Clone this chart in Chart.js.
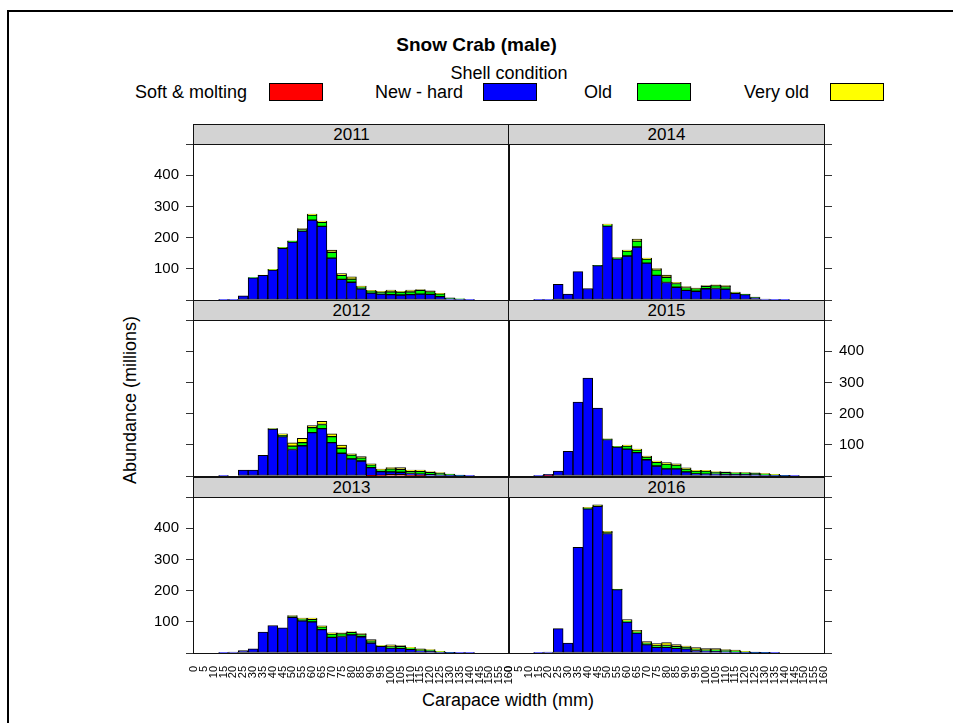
<!DOCTYPE html>
<html>
<head>
<meta charset="utf-8">
<script src="https://cdn.jsdelivr.net/npm/chart.js@4.4.0/dist/chart.umd.min.js"></script>
<style>
  html, body { margin: 0; padding: 0; background: #fff; width: 953px; height: 723px; overflow: hidden; }
  body { position: relative; font-family: "Liberation Sans", Arial, sans-serif; color: #000; }
  .abs { position: absolute; }
  canvas { position: absolute; }
  .frame { position: absolute; box-sizing: border-box; border: 1px solid #111; pointer-events: none; }
  .strip { position: absolute; box-sizing: border-box; border: 1px solid #111; background: #d3d3d3;
           text-align: center; font-size: 17px; line-height: 20px; }
  .lgText { position: absolute; font-size: 18px; line-height: 18px; white-space: nowrap; }
  .lgBox { position: absolute; box-sizing: border-box; border: 1px solid #000; width: 54px; height: 18px; }
</style>
</head>
<body>
<div class="abs" style="left:7px;top:10px;width:980px;height:760px;border-left:2px solid #000;border-top:2px solid #000;"></div>
<div class="abs" style="left:0;width:953px;top:34px;text-align:center;font-size:19px;font-weight:bold;">Snow Crab (male)</div>
<div class="abs" style="left:409px;width:200px;top:63px;text-align:center;font-size:18px;">Shell condition</div>
<div id="legend"></div>
<div class="abs" style="left:508px;top:690px;transform:translateX(-50%);font-size:18px;white-space:nowrap;">Carapace width (mm)</div>
<div class="abs" style="left:130px;top:400px;transform:translate(-50%,-50%) rotate(-90deg);font-size:18px;white-space:nowrap;">Abundance (millions)</div>
<div id="panels"></div>

<script>
'use strict';
/* Snow crab male abundance by carapace width, stacked by shell condition */

const bins   = [0, 5, 10, 15, 20, 25, 30, 35, 40, 45, 50, 55, 60, 65, 70, 75, 80,
                85, 90, 95, 100, 105, 110, 115, 120, 125, 130, 135, 140, 145, 150, 155, 160];
const yTicks = [0, 100, 200, 300, 400, 500];
const shellNames  = ['Soft & molting', 'New - hard', 'Old', 'Very old'];
const shellColors = ['#ff0000', '#0000ff', '#00ff00', '#ffff00'];

//                 0  5 10 15 20  25  30  35  40  45  50  55  60  65  70  75  80 85 90 95 100 105 110 115 120 125 130 135 140 145 150 155 160
const soft2011    = [0, 0, 0, 0, 0,  0,  0,  0,  0,  0,  0,  0,  0,  0,  0,  0,  0, 0, 0, 0,  0,  0,  0,  0,  0,  0,  0,  0,  0,  0,  0,  0,  0];
const newHard2011 = [0, 0, 0, 1, 2, 13, 71, 79, 96,166,186,221,256,236,134, 66, 57,36,22,19, 17, 16, 17, 19, 18, 11,  4,  3,  1,  0,  0,  0,  0];
const old2011     = [0, 0, 0, 0, 0,  0,  1,  0,  1,  2,  2,  5, 16, 13, 19, 13, 10, 6, 7, 6,  9,  9,  9, 12,  9,  9,  3,  1,  0,  0,  0,  0,  0];
const veryOld2011 = [0, 0, 0, 0, 0,  0,  0,  1,  1,  1,  2,  3,  3,  4,  7,  6,  7, 3, 2, 3,  6,  3,  6,  2,  2,  1,  0,  0,  0,  0,  0,  0,  0];

const soft2012    = [0, 0, 0, 0, 0,  0,  0,  0,  0,  0,  0,  0,  0,  0,  0,  0,  0, 0, 1, 2,  4,  4,  2,  1,  0,  0,  0,  0,  0,  0,  0,  0,  0];
const newHard2012 = [0, 0, 0, 1, 0, 19, 19, 66,150,126, 85, 97,139,152,107, 73, 55,48,26,12,  9,  8,  6,  5,  4,  3,  2,  1,  1,  0,  0,  0,  0];
const old2012     = [0, 0, 0, 0, 0,  0,  0,  0,  1,  4, 11, 10, 16, 13, 19, 16, 12,10, 9, 6, 10,  9,  7,  9,  8,  6,  3,  2,  0,  0,  0,  0,  0];
const veryOld2012 = [0, 0, 0, 0, 0,  0,  0,  0,  1,  5, 10, 14,  7, 10,  9, 10,  4, 4, 3, 2,  4,  6,  4,  4,  2,  2,  1,  0,  0,  0,  0,  0,  0];

const soft2013    = [0, 0, 0, 0, 0,  0,  0,  0,  0,  0,  0,  0,  0,  0,  0,  0,  0, 0, 0, 0,  0,  0,  0,  0,  0,  0,  0,  0,  0,  0,  0,  0,  0];
const newHard2013 = [0, 0, 0, 1, 3,  8, 13, 67, 88, 81,114,103,100, 75, 50, 53, 58,52,32,21, 16, 15, 12,  7,  5,  3,  1,  1,  1,  0,  0,  0,  0];
const old2013     = [0, 0, 0, 0, 0,  0,  0,  0,  0,  0,  3,  6,  8,  9, 11,  9,  8, 7, 7, 2,  4,  6,  4,  4,  4,  1,  1,  0,  0,  0,  0,  0,  0];
const veryOld2013 = [0, 0, 0, 0, 0,  0,  0,  0,  0,  0,  3,  3,  4,  3,  4,  3,  3, 3, 4, 1,  6,  3,  2,  2,  2,  1,  0,  0,  0,  0,  0,  0,  0];

const soft2014    = [0, 0, 0, 0, 0,  0,  0,  0,  0,  0,  0,  0,  0,  0,  0,  0,  0, 0, 0, 0,  0,  0,  0,  0,  0,  0,  0,  0,  0,  0,  0,  0,  0];
const newHard2014 = [0, 0, 0, 1, 2, 50, 19, 91, 37,110,237,132,141,170,118, 79, 56,41,31,28, 36, 37, 35, 21, 17,  8,  3,  1,  1,  0,  0,  0,  0];
const old2014     = [0, 0, 0, 0, 0,  0,  0,  0,  0,  1,  3,  3, 16, 19, 13, 18, 17,12, 9, 9,  8,  9,  8,  3,  2,  1,  0,  0,  0,  0,  0,  0,  0];
const veryOld2014 = [0, 0, 0, 0, 0,  0,  0,  0,  0,  0,  3,  1,  3,  6,  3,  4,  7, 4, 3, 1,  2,  3,  3,  1,  0,  0,  0,  0,  0,  0,  0,  0,  0];

const soft2015    = [0, 0, 0, 0, 1,  0,  0,  0,  0,  0,  0,  0,  0,  0,  0,  0,  0, 0, 0, 0,  0,  0,  0,  0,  0,  0,  0,  0,  0,  0,  0,  0,  0];
const newHard2015 = [0, 0, 0, 1, 4, 16, 79,237,314,218,117, 93, 86, 75, 52, 32, 23,23,13, 7,  6,  6,  5,  5,  5,  4,  3,  2,  1,  1,  0,  0,  0];
const old2015     = [0, 0, 0, 0, 0,  0,  0,  0,  0,  0,  1,  1, 10,  8,  9, 12, 15,12, 9, 9, 10,  6,  7,  5,  5,  5,  4,  2,  1,  0,  0,  0,  0];
const veryOld2015 = [0, 0, 0, 0, 0,  0,  0,  0,  0,  0,  1,  1,  3,  3,  3,  4,  5, 4, 4, 2,  2,  2,  1,  1,  1,  1,  1,  1,  0,  0,  0,  0,  0];

const soft2016    = [0, 0, 0, 0, 0,  0,  0,  0,  0,  0,  0,  0,  0,  0,  0,  0,  0, 0, 0, 0,  0,  0,  0,  0,  0,  0,  0,  0,  0,  0,  0,  0,  0];
const newHard2016 = [0, 0, 0, 1, 3, 78, 32,339,462,470,383,203, 99, 64, 27, 18, 18,15,13, 8,  6,  5,  4,  3,  2,  1,  1,  1,  0,  0,  0,  0,  0];
const old2016     = [0, 0, 0, 0, 0,  0,  0,  0,  2,  2,  3,  1,  3,  3,  5,  5,  6, 6, 5, 5,  4,  5,  4,  4,  2,  1,  1,  0,  0,  0,  0,  0,  0];
const veryOld2016 = [0, 0, 0, 0, 0,  0,  0,  0,  3,  3,  4,  1,  5,  6,  5,  7,  9, 6, 4, 4,  4,  4,  3,  2,  1,  1,  0,  0,  0,  0,  0,  0,  0];

// lattice layout: left column 2011-2013, right column 2014-2016
const panels = [
  { year: '2011', col: 0, row: 0, series: [soft2011, newHard2011, old2011, veryOld2011] },
  { year: '2012', col: 0, row: 1, series: [soft2012, newHard2012, old2012, veryOld2012] },
  { year: '2013', col: 0, row: 2, series: [soft2013, newHard2013, old2013, veryOld2013] },
  { year: '2014', col: 1, row: 0, series: [soft2014, newHard2014, old2014, veryOld2014] },
  { year: '2015', col: 1, row: 1, series: [soft2015, newHard2015, old2015, veryOld2015] },
  { year: '2016', col: 1, row: 2, series: [soft2016, newHard2016, old2016, veryOld2016] }
];

// geometry (px)
const COL_X   = [194, 509];
const PLOT_Y  = [144, 320, 497];
const PLOT_W  = 315;
const PLOT_H  = 156;
const STRIP_H = 20;
const AXIS_W  = 60;
const SIDE    = 20;
const EDGE    = 4;
const XAXIS_H = 45;

Chart.defaults.font.family = '"Liberation Sans", Arial, sans-serif';
Chart.defaults.color = '#000';

// legend (html)
const lgText = [135, 375, 584, 744];
const lgBox  = [269, 483, 637, 830];
const legend = document.getElementById('legend');
shellNames.forEach((name, i) => {
  const t = document.createElement('div');
  t.className = 'lgText';
  t.style.left = lgText[i] + 'px';
  t.style.top = '83px';
  t.textContent = name;
  legend.appendChild(t);
  const b = document.createElement('div');
  b.className = 'lgBox';
  b.style.left = lgBox[i] + 'px';
  b.style.top = '83px';
  b.style.background = shellColors[i];
  legend.appendChild(b);
});

const host = document.getElementById('panels');

function buildPanel(p) {
  const left = p.col === 0;
  const bottom = p.row === 2;
  const showY = left ? p.row !== 1 : p.row === 1;

  const cv = document.createElement('canvas');
  cv.width  = AXIS_W + PLOT_W + SIDE;
  cv.height = EDGE + PLOT_H + (bottom ? XAXIS_H : EDGE);
  cv.style.left = (COL_X[p.col] - (left ? AXIS_W : SIDE)) + 'px';
  cv.style.top  = (PLOT_Y[p.row] - EDGE) + 'px';
  host.appendChild(cv);

  new Chart(cv, {
    type: 'bar',
    data: {
      datasets: p.series.map((vals, i) => ({
        label: shellNames[i],
        data: bins.map((b, j) => ({ x: b, y: vals[j] })),
        backgroundColor: shellColors[i],
        borderColor: '#000',
        borderWidth: 1,
        borderSkipped: false,
        barPercentage: 1,
        categoryPercentage: 1
      }))
    },
    options: {
      responsive: false,
      animation: false,
      devicePixelRatio: 1,
      events: [],
      layout: {
        autoPadding: false,
        padding: { top: EDGE, bottom: bottom ? 0 : EDGE, left: left ? 0 : SIDE, right: left ? SIDE : 0 }
      },
      plugins: { legend: { display: false }, tooltip: { enabled: false } },
      scales: {
        x: {
          type: 'linear', stacked: true, offset: false,
          min: 0, max: 160,
          display: bottom,
          afterBuildTicks: ax => { ax.ticks = bins.map(v => ({ value: v })); },
          afterFit: ax => { ax.height = bottom ? XAXIS_H : 0; ax.paddingLeft = 0; ax.paddingRight = 0; },
          grid: { display: false },
          border: { display: false },
          ticks: { autoSkip: false, minRotation: 90, maxRotation: 90, padding: 5, font: { size: 11 }, color: '#000' }
        },
        y: {
          type: 'linear', stacked: true,
          position: left ? 'left' : 'right',
          min: 0, max: 500,
          afterBuildTicks: ax => { ax.ticks = yTicks.map(v => ({ value: v })); },
          afterFit: ax => { ax.width = AXIS_W; ax.paddingTop = 0; ax.paddingBottom = 0; },
          grid: { drawOnChartArea: false, drawTicks: true, tickLength: 8, color: '#333' },
          border: { display: false },
          ticks: {
            padding: 7, font: { size: 15 }, color: '#000',
            callback: v => (showY && v > 0 && v < 500) ? String(v) : ''
          }
        }
      }
    }
  });

  // panel frame and strip
  const fr = document.createElement('div');
  fr.className = 'frame';
  fr.style.left = (COL_X[p.col] - 1) + 'px';
  fr.style.top = (PLOT_Y[p.row] - 1) + 'px';
  fr.style.width = (PLOT_W + 2) + 'px';
  fr.style.height = (PLOT_H + 2) + 'px';
  host.appendChild(fr);

  const st = document.createElement('div');
  st.className = 'strip';
  st.style.left = (COL_X[p.col] - 1) + 'px';
  st.style.top = (PLOT_Y[p.row] - STRIP_H) + 'px';
  st.style.width = (PLOT_W + 2) + 'px';
  st.style.height = (STRIP_H + 1) + 'px';
  st.textContent = p.year;
  host.appendChild(st);
}

panels.forEach(buildPanel);
</script>
</body>
</html>
